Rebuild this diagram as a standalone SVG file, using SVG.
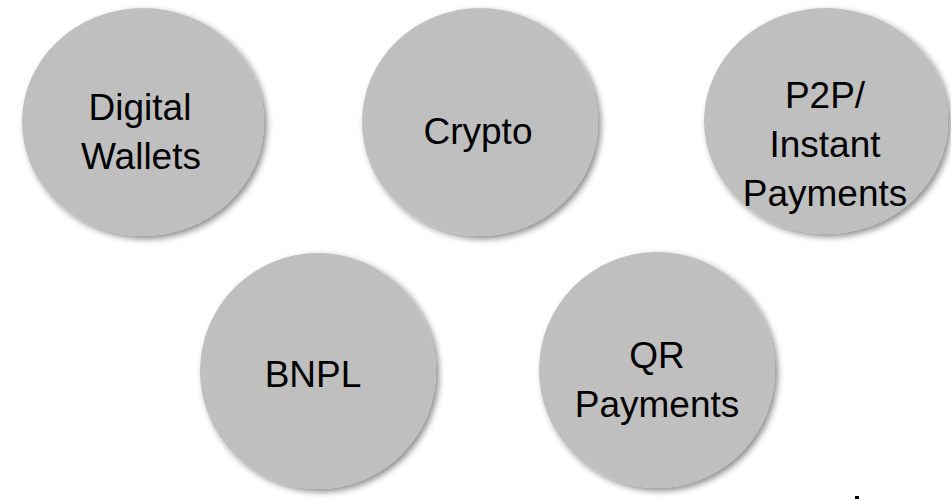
<svg xmlns="http://www.w3.org/2000/svg" width="951" height="499" viewBox="0 0 951 499">
  <defs>
    <filter id="shadow" x="-10%" y="-10%" width="125%" height="125%">
      <feDropShadow dx="3" dy="3" stdDeviation="3" flood-color="#000" flood-opacity="0.45"/>
    </filter>
  </defs>
  <style>
    .bubble { fill: #bfbfbf; filter: url(#shadow); }
    .label { font-family: "Liberation Sans", Arial, sans-serif; font-size: 37px; fill: #000; text-anchor: middle; }
  </style>
  <rect width="951" height="499" fill="#fff"/>

  <g id="digital-wallets">
    <ellipse class="bubble" cx="143" cy="122" rx="121" ry="114"/>
    <text class="label" x="140" y="120">Digital</text>
    <text class="label" x="141" y="169">Wallets</text>
  </g>

  <g id="crypto">
    <ellipse class="bubble" cx="480" cy="122" rx="118" ry="114"/>
    <text class="label" x="478" y="144">Crypto</text>
  </g>

  <g id="p2p-instant">
    <ellipse class="bubble" cx="826" cy="121" rx="122" ry="113"/>
    <text class="label" x="825" y="108">P2P/</text>
    <text class="label" x="825" y="157">Instant</text>
    <text class="label" x="825" y="206">Payments</text>
  </g>

  <g id="bnpl">
    <ellipse class="bubble" cx="318" cy="371" rx="118" ry="118"/>
    <text class="label" x="313" y="387">BNPL</text>
  </g>

  <g id="qr-payments">
    <ellipse class="bubble" cx="657" cy="370" rx="118" ry="118"/>
    <text class="label" x="657" y="368">QR</text>
    <text class="label" x="657" y="417">Payments</text>
  </g>

  <rect x="855" y="496" width="4" height="3" fill="#000"/>
</svg>
